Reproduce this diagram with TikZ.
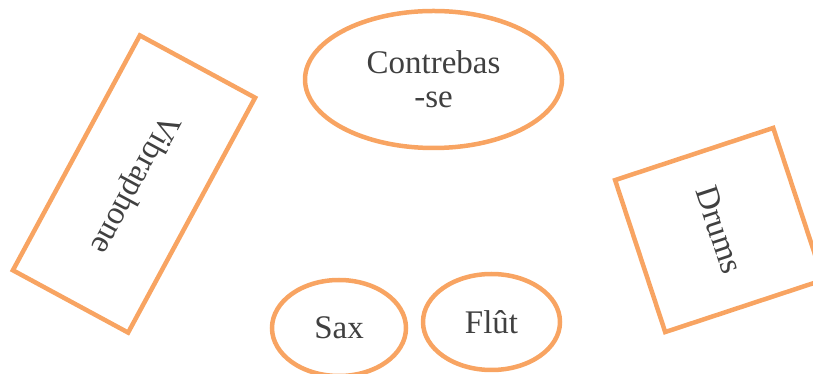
\documentclass[tikz,border=0pt]{standalone}
\usepackage{fontspec}
\setmainfont{Liberation Serif}
\usetikzlibrary{shapes.geometric}
\definecolor{orng}{HTML}{F8A462}
\definecolor{txt}{HTML}{404040}
\tikzset{
  box/.style={draw=orng, line width=4.5pt, rectangle, inner sep=0pt, text=txt,
    font=\fontsize{33}{36}\selectfont},
  oval/.style={draw=orng, line width=4.5pt, ellipse, inner sep=0pt, text=txt, align=center,
    font=\fontsize{33}{34}\selectfont},
}
\begin{document}
\begin{tikzpicture}[x=1pt,y=1pt]
\useasboundingbox (0,0) rectangle (813,374);
\clip (0,0) rectangle (813,374);
\node[box, minimum width=267pt, minimum height=131pt, rotate=-118.4] (vib) at (134,190) {Vibraphone};
\node[box, minimum width=160pt, minimum height=166.5pt, rotate=-71.75] (drums) at (719.2,144) {Drums};
\node[oval, minimum width=257pt, minimum height=137pt] (cb) at (433.5,294.5) {Contrebas\\-se};
\node[oval, minimum width=134pt, minimum height=96pt] (sax) at (339,46) {Sax};
\node[oval, minimum width=137pt, minimum height=96pt] (flut) at (491.5,52) {Flût};
\end{tikzpicture}
\end{document}
